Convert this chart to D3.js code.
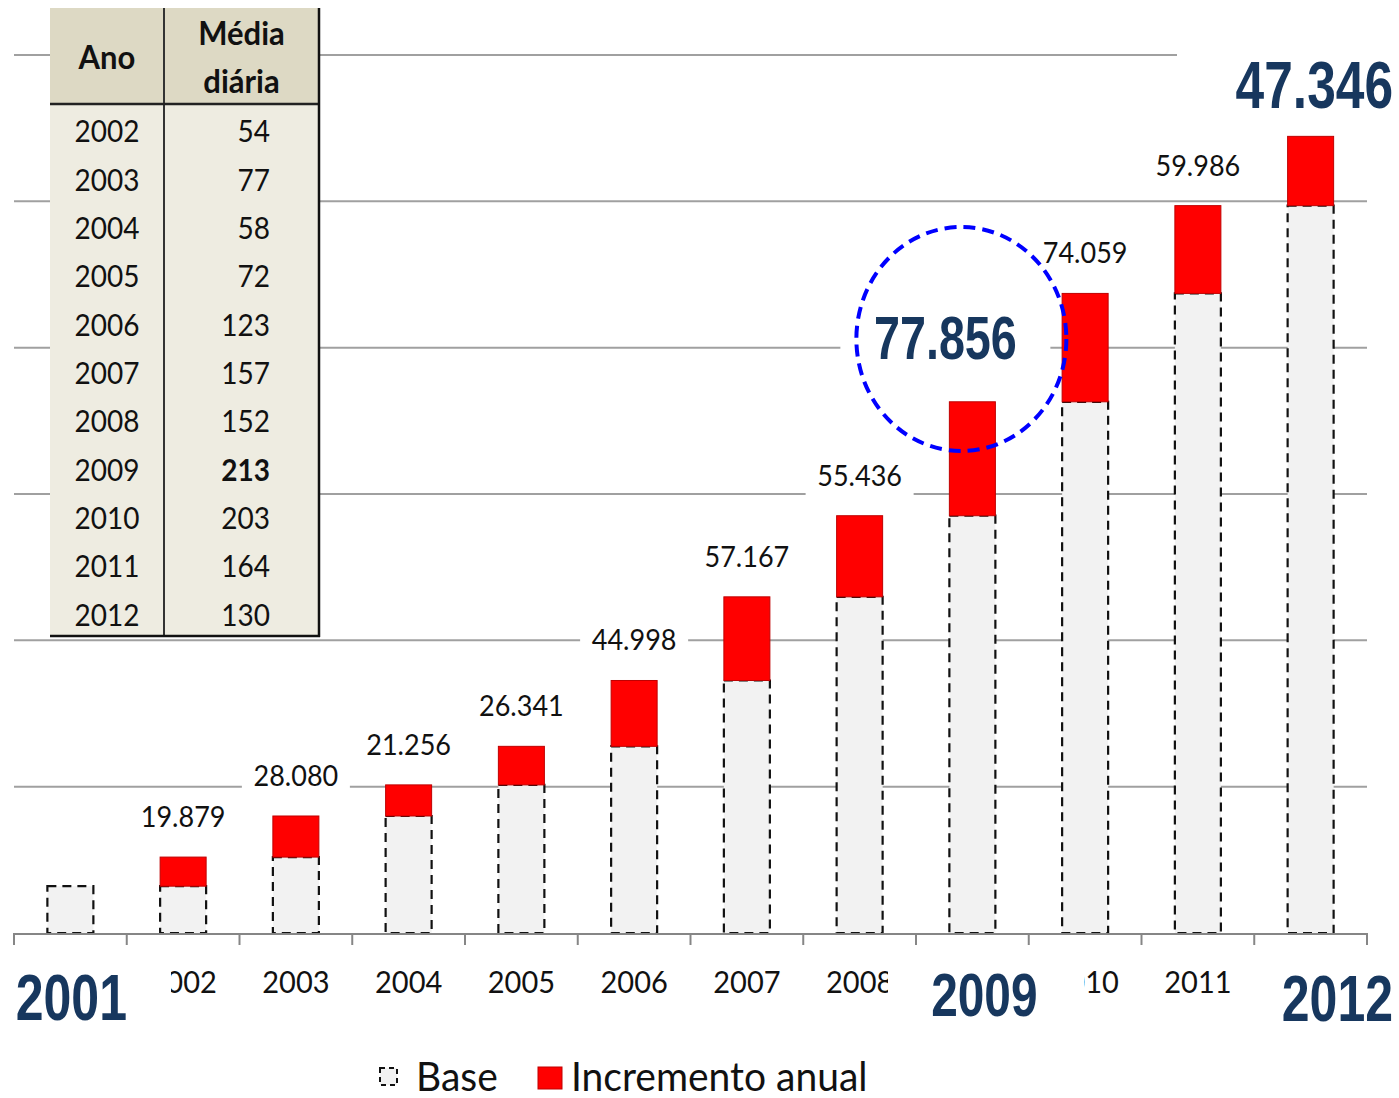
<!DOCTYPE html>
<html><head><meta charset="utf-8">
<script src="https://cdn.jsdelivr.net/npm/d3@7"></script>
<style>html,body{margin:0;padding:0;background:#fff;} svg{display:block;}</style>
</head><body>
<svg id="chart" width="1399" height="1098"></svg>
<script>
// ---------- DATA ----------
const years = ["2001","2002","2003","2004","2005","2006","2007","2008","2009","2010","2011","2012"];
const startValue = 32000;            // 2001 base
const increments = [19879, 28080, 21256, 26341, 44998, 57167, 55436, 77856, 74059, 59986, 47346]; // 2002..2012
const gridValues = [100000, 200000, 300000, 400000, 500000, 600000];
const bigValueYears = ["2009", "2012"];
const bigAxisYears = ["2001", "2009", "2012"];
const tableYears = ["2002","2003","2004","2005","2006","2007","2008","2009","2010","2011","2012"];
const dailyAverage = [54, 77, 58, 72, 123, 157, 152, 213, 203, 164, 130];
const tableBoldYear = "2009";
const tableHeaderCol1 = ["Ano"];
const tableHeaderCol2 = ["Média", "diária"];
const legendLabels = ["Base", "Incremento anual"];

// ---------- SETUP ----------
const SY = 1.07;
const svg = d3.select("#chart");
const loc = d3.formatLocale({decimal: ",", thousands: ".", grouping: [3], currency: ["R$", ""]});
const fmt = loc.format(",d");

const rows = years.map(y => ({year: y}));
let running = startValue;
rows.forEach((r, i) => {
  if (i === 0) { r.base = startValue; r.inc = 0; }
  else { r.base = running; r.inc = increments[i - 1]; running += r.inc; }
  r.top = r.base + r.inc;
});

const x = d3.scaleBand().domain(years).range([14, 1367]).paddingInner(0.592).paddingOuter(0.296);
const y = d3.scaleLinear().domain([0, 600000]).range([933, 55]);
const bw = x.bandwidth();
const cx = d => x(d) + bw / 2;

function text(g, tx, ty, s, sx, sy) {
  return g.append("text").attr("transform", `translate(${tx},${ty}) scale(${sx || 1},${sy || SY})`).text(s);
}

// gridlines
svg.append("g").selectAll("line").data(gridValues).join("line")
  .attr("x1", 14).attr("x2", 1367).attr("y1", d => y(d)).attr("y2", d => y(d))
  .attr("stroke", "#a0a0a0").attr("stroke-width", 2);

// base bars
const bars = svg.append("g");
bars.selectAll("rect.base").data(rows).join("rect").attr("class", "base")
  .attr("x", d => x(d.year)).attr("width", bw)
  .attr("y", d => y(d.base)).attr("height", d => y(0) - y(d.base))
  .attr("fill", "#f2f2f2").attr("stroke", "#111").attr("stroke-width", 2.2)
  .attr("stroke-dasharray", "9 6");
// increment bars
bars.selectAll("rect.inc").data(rows.filter(d => d.inc > 0)).join("rect").attr("class", "inc")
  .attr("x", d => x(d.year)).attr("width", bw)
  .attr("y", d => y(d.top)).attr("height", d => y(d.base) - y(d.top))
  .attr("fill", "#ff0000").attr("stroke", "#c00000").attr("stroke-width", 1);

// axis
const ax = svg.append("g");
ax.append("line").attr("x1", 14).attr("x2", 1367).attr("y1", y(0) + 1).attr("y2", y(0) + 1)
  .attr("stroke", "#868686").attr("stroke-width", 2);
const bounds = d3.range(years.length + 1).map(i => x.range()[0] + i * x.step());
ax.selectAll("line.tick").data(bounds).join("line").attr("class", "tick")
  .attr("x1", d => d).attr("x2", d => d).attr("y1", y(0)).attr("y2", y(0) + 12)
  .attr("stroke", "#868686").attr("stroke-width", 2);
years.filter(yr => !bigAxisYears.includes(yr)).forEach(yr => {
  text(ax, cx(yr), 993, yr).attr("text-anchor", "middle")
    .attr("font-family", "Lato, sans-serif").attr("font-size", 29).attr("fill", "#111");
});

// small value labels
const lab = svg.append("g");
rows.filter(d => d.inc > 0 && !bigValueYears.includes(d.year)).forEach(d => {
  const lx = cx(d.year), ly = y(d.top) - 40;
  lab.append("rect").attr("x", lx - 54).attr("y", ly - 20).attr("width", 108).attr("height", 45).attr("fill", "#fff");
  text(lab, lx, ly + 10, fmt(d.inc)).attr("text-anchor", "middle")
    .attr("font-family", "Lato, sans-serif").attr("font-size", 27).attr("fill", "#111");
});

// table
const t = svg.append("g");
const tx0 = 50, tx1 = 164, tx2 = 319, ty0 = 8, tyH = 104, ty1 = 636;
const rowH = (ty1 - tyH) / tableYears.length;
t.append("rect").attr("x", tx0).attr("y", ty0).attr("width", tx2 - tx0).attr("height", tyH - ty0).attr("fill", "#ddd9c4");
t.append("rect").attr("x", tx0).attr("y", tyH).attr("width", tx2 - tx0).attr("height", ty1 - tyH).attr("fill", "#eeece1");
t.append("line").attr("x1", tx1).attr("x2", tx1).attr("y1", ty0).attr("y2", ty1).attr("stroke", "#333").attr("stroke-width", 2);
t.append("line").attr("x1", tx0).attr("x2", tx2).attr("y1", tyH).attr("y2", tyH).attr("stroke", "#222").attr("stroke-width", 2.5);
t.append("line").attr("x1", tx2).attr("x2", tx2).attr("y1", ty0).attr("y2", ty1 + 1).attr("stroke", "#111").attr("stroke-width", 2.5);
t.append("line").attr("x1", tx0).attr("x2", tx2 + 1).attr("y1", ty1).attr("y2", ty1).attr("stroke", "#111").attr("stroke-width", 2.5);
const tf = (g, fs) => g.attr("font-family", "Lato, sans-serif").attr("font-size", fs || 28).attr("fill", "#111");
tf(text(t, (tx0 + tx1) / 2, 69, tableHeaderCol1[0]).attr("text-anchor", "middle").attr("font-weight", "bold"), 31);
tableHeaderCol2.forEach((s, i) => tf(text(t, (tx1 + tx2) / 2, 45 + i * 48, s).attr("text-anchor", "middle").attr("font-weight", "bold"), 31));
tableYears.forEach((yr, i) => {
  const by = tyH + rowH * (i + 0.5) + 14;
  tf(text(t, (tx0 + tx1) / 2, by, yr).attr("text-anchor", "middle"));
  tf(text(t, 270, by, dailyAverage[i]).attr("text-anchor", "end").attr("font-weight", yr === tableBoldYear ? "bold" : "normal"));
});

// big annotations
const big = svg.append("g");
const bigFont = g => g.attr("font-family", "'Liberation Sans', Arial, sans-serif")
  .attr("font-weight", "bold").attr("fill", "#17375e");
// 2012 value
const r12 = rows.find(d => d.year === bigValueYears[1]);
big.append("rect").attr("x", 1177).attr("y", 30).attr("width", 222).attr("height", 92).attr("fill", "#fff");
bigFont(text(big, 1393, 108, fmt(r12.inc), 0.83).attr("text-anchor", "end").attr("font-size", 62));
// 2009 value
const r09 = rows.find(d => d.year === bigValueYears[0]);
const c09 = cx(r09.year);
big.append("rect").attr("x", c09 - 132).attr("y", 308).attr("width", 210).attr("height", 62).attr("fill", "#fff");
bigFont(text(big, c09 - 27, 359, fmt(r09.inc), 0.82).attr("text-anchor", "middle").attr("font-size", 57));
big.append("ellipse").attr("cx", c09 - 11).attr("cy", 339).attr("rx", 105).attr("ry", 112)
  .attr("fill", "none").attr("stroke", "#0000ff").attr("stroke-width", 4).attr("stroke-dasharray", "12 7");
// big axis years (white boxes clip neighbouring axis labels as in the original)
const boxes = {"2001": [0, 171], "2009": [888, 1084], "2012": [1262, 1399]};
bigAxisYears.forEach(yr => {
  const b = boxes[yr];
  big.append("rect").attr("x", b[0]).attr("y", 955).attr("width", b[1] - b[0]).attr("height", 80).attr("fill", "#fff");
});
bigFont(text(big, cx("2001") + 1, 1020, "2001", 0.82).attr("text-anchor", "middle").attr("font-size", 61));
bigFont(text(big, cx("2009") + 12, 1016, "2009", 0.84).attr("text-anchor", "middle").attr("font-size", 57));
bigFont(text(big, 1393, 1021, "2012", 0.82).attr("text-anchor", "end").attr("font-size", 61));

// legend
const lg = svg.append("g");
lg.append("rect").attr("x", 380).attr("y", 1068).attr("width", 17).attr("height", 17)
  .attr("fill", "#f2f2f2").attr("stroke", "#111").attr("stroke-width", 2).attr("stroke-dasharray", "5 4");
lg.append("rect").attr("x", 538).attr("y", 1067).attr("width", 24).attr("height", 22)
  .attr("fill", "#ff0000").attr("stroke", "#c00000").attr("stroke-width", 1);
const lf = g => g.attr("font-family", "Lato, sans-serif").attr("font-size", 39).attr("fill", "#111");
lf(text(lg, 416, 1091, legendLabels[0], 1, 1.04));
lf(text(lg, 571, 1091, legendLabels[1], 1, 1.04));
</script>
</body></html>
